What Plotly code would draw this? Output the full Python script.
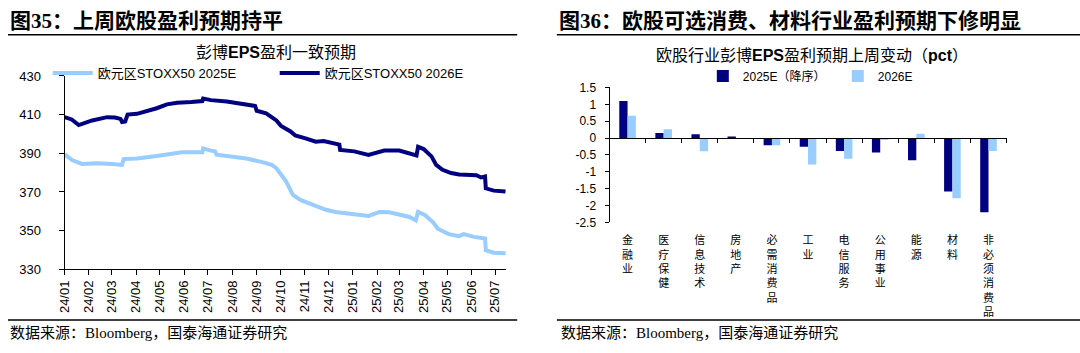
import plotly.graph_objects as go

# ---------------- data: left panel (Bloomberg consensus EPS) ----------------
dates_2026e = ["2024-01-01", "2024-01-10", "2024-01-19", "2024-01-26", "2024-02-05", "2024-02-24",
               "2024-03-05", "2024-03-12", "2024-03-14", "2024-03-18", "2024-03-21", "2024-04-02",
               "2024-04-15", "2024-04-27", "2024-05-10", "2024-05-23", "2024-06-10", "2024-06-24",
               "2024-06-25", "2024-07-05", "2024-07-25", "2024-08-06", "2024-08-25", "2024-08-30",
               "2024-09-01", "2024-09-13", "2024-09-26", "2024-10-02", "2024-10-14", "2024-10-20",
               "2024-11-02", "2024-11-15", "2024-11-25", "2024-12-10", "2024-12-15", "2024-12-16",
               "2025-01-03", "2025-01-21", "2025-02-10", "2025-03-01", "2025-03-14", "2025-03-23",
               "2025-03-25", "2025-04-01", "2025-04-11", "2025-04-17", "2025-04-25", "2025-05-06",
               "2025-05-16", "2025-06-07", "2025-06-13", "2025-06-17", "2025-06-18", "2025-06-19",
               "2025-06-29", "2025-07-14"]
eps_2026e = [408.7, 407.5, 404.6, 405.5, 407.0, 408.7,
             408.5, 407.8, 406.2, 406.5, 410.0, 410.4,
             411.7, 413.3, 415.3, 416.1, 416.5, 417.0,
             418.3, 417.5, 416.8, 416.1, 415.0, 414.5,
             412.0, 410.7, 407.0, 404.1, 401.3, 399.2,
             397.7, 396.0, 396.3, 394.7, 394.5, 391.7,
             391.0, 389.2, 391.4, 391.4, 390.0, 388.9,
             393.4, 392.2, 388.4, 384.0, 381.5, 379.8,
             379.0, 378.7, 377.5, 378.2, 378.0, 371.9,
             370.7, 370.2]

dates_2025e = ["2024-01-01", "2024-01-11", "2024-01-23", "2024-02-11", "2024-03-01", "2024-03-14",
               "2024-03-16", "2024-04-02", "2024-04-27", "2024-05-16", "2024-05-29", "2024-06-24",
               "2024-06-25", "2024-07-05", "2024-07-10", "2024-07-12", "2024-08-06", "2024-08-19",
               "2024-09-07", "2024-09-20", "2024-09-26", "2024-10-02", "2024-10-08", "2024-10-12",
               "2024-10-17", "2024-10-27", "2024-11-09", "2024-11-22", "2024-11-28", "2024-12-10",
               "2024-12-22", "2025-01-03", "2025-01-21", "2025-02-04", "2025-02-16", "2025-03-05",
               "2025-03-14", "2025-03-22", "2025-03-25", "2025-04-03", "2025-04-13", "2025-04-19",
               "2025-05-03", "2025-05-16", "2025-05-22", "2025-06-04", "2025-06-18", "2025-06-19",
               "2025-06-29", "2025-07-14"]
eps_2025e = [389.4, 386.4, 384.5, 384.8, 384.5, 384.0,
             387.0, 387.3, 388.6, 389.8, 390.6, 390.6,
             392.5, 391.4, 391.0, 389.3, 388.1, 387.3,
             385.6, 384.0, 382.3, 379.0, 375.7, 372.5,
             368.5, 365.8, 363.7, 362.0, 360.8, 359.7,
             359.2, 358.7, 357.6, 359.7, 359.5, 358.0,
             357.1, 355.4, 359.7, 358.0, 354.3, 351.0,
             348.2, 347.2, 348.2, 346.8, 346.0, 339.9,
             338.6, 338.3]

# ---------------- data: right panel (sector EPS revisions, pct) ----------------
sectors = ["金融业", "医疗保健", "信息技术", "房地产", "必需消费品", "工业",
           "电信服务", "公用事业", "能源", "材料", "非必须消费品"]
chg_2025e = [1.10, 0.15, 0.11, 0.04, -0.21, -0.26, -0.38, -0.43, -0.66, -1.58, -2.20]
chg_2026e = [0.66, 0.26, -0.39, 0.00, -0.21, -0.78, -0.61, -0.06, 0.13, -1.78, -0.38]
bar_ytickvals = [1.5, 1, 0.5, 0, -0.5, -1, -1.5, -2, -2.5]
bar_yticktext = ["1.5", "1", "0.5", "0", "-0.5", "-1", "-1.5", "-2", "-2.5"]

DARK = "#000080"
LIGHT = "#99CCFF"
W, H = 1080, 353
SANS = "Liberation Sans, Noto Sans CJK SC, sans-serif"
CJK = "Noto Sans CJK SC, sans-serif"
SERIF = "Liberation Serif, Noto Sans CJK SC, serif"


def px_x(p):
    return p / W


def px_y(p):
    return (H - p) / H


fig = go.Figure()

fig.add_trace(go.Scatter(x=dates_2025e, y=eps_2025e, mode="lines", name="欧元区STOXX50 2025E",
                         line=dict(color=LIGHT, width=4), xaxis="x", yaxis="y", legend="legend"))
fig.add_trace(go.Scatter(x=dates_2026e, y=eps_2026e, mode="lines", name="欧元区STOXX50 2026E",
                         line=dict(color=DARK, width=4), xaxis="x", yaxis="y", legend="legend"))

vert_labels = ["<br>".join(list(s)) for s in sectors]
fig.add_trace(go.Bar(x=vert_labels, y=chg_2025e, name="2025E（降序）", marker=dict(color=DARK, line_width=0),
                     xaxis="x2", yaxis="y2", legend="legend2"))
fig.add_trace(go.Bar(x=vert_labels, y=chg_2026e, name="2026E", marker=dict(color=LIGHT, line_width=0),
                     xaxis="x2", yaxis="y2", legend="legend2"))
# helper trace so the boundary-tick axis on the zero line is drawn
fig.add_trace(go.Scatter(x=[None], y=[None], xaxis="x3", yaxis="y2", showlegend=False, hoverinfo="skip"))

ldx = [px_x(57), px_x(502)]
ldy = [px_y(274), px_y(72)]
rdx = [px_x(606), px_x(1006)]
rdy = [px_y(225), px_y(84)]
yr2 = [-2.5, 1.5]
zero_pos = rdy[0] + (0 - yr2[0]) / (yr2[1] - yr2[0]) * (rdy[1] - rdy[0])

fig.update_layout(
    width=W, height=H, margin=dict(l=0, r=0, t=0, b=0),
    paper_bgcolor="white", plot_bgcolor="white",
    barmode="group", bargap=0.54, bargroupgap=0,
    font=dict(family=SANS, size=13, color="black"),
    xaxis=dict(domain=ldx, anchor="y", type="date", range=["2024-01-01", "2025-07-15"],
               dtick="M1", tick0="2024-01-01", tickformat="%y/%m", tickangle=-90,
               showline=True, linecolor="black", linewidth=1, ticks="outside", ticklen=5,
               tickcolor="black", showgrid=False, zeroline=False,
               tickfont=dict(family=SANS, size=13)),
    yaxis=dict(domain=ldy, anchor="x", range=[330, 430], dtick=20, tick0=330,
               showline=True, linecolor="black", linewidth=1, ticks="outside", ticklen=5,
               tickcolor="black", showgrid=False, zeroline=False, ticklabelstandoff=15,
               tickfont=dict(family=SANS, size=13)),
    xaxis2=dict(domain=rdx, anchor="y2", type="category", range=[-0.5, 10.5],
                showline=False, ticks="", showgrid=False, zeroline=False,
                tickfont=dict(family=CJK, size=11), ticklabelstandoff=10),
    yaxis2=dict(domain=rdy, anchor="x2", range=yr2, tickvals=bar_ytickvals, ticktext=bar_yticktext,
                showline=True, linecolor="black", linewidth=1, ticks="outside", ticklen=4,
                tickcolor="black", showgrid=False, zeroline=False, ticklabelstandoff=6,
                tickfont=dict(family=SANS, size=12)),
    xaxis3=dict(domain=rdx, overlaying="x2", anchor="free", position=zero_pos, range=[-0.5, 10.5],
                tickmode="array", tickvals=[i - 0.5 for i in range(len(sectors) + 1)],
                showticklabels=False, showline=True, linecolor="black", linewidth=1,
                ticks="outside", ticklen=4, tickcolor="black", showgrid=False, zeroline=False),
    legend=dict(orientation="h", x=px_x(40), y=px_y(69), xanchor="left", yanchor="middle",
                bgcolor="rgba(0,0,0,0)", font=dict(family=SANS, size=13),
                entrywidth=172, entrywidthmode="pixels", itemwidth=40, tracegroupgap=0),
    legend2=dict(orientation="h", x=px_x(700), y=px_y(72), xanchor="left", yanchor="middle",
                 bgcolor="rgba(0,0,0,0)", font=dict(family=SANS, size=12),
                 entrywidth=90, entrywidthmode="pixels", itemwidth=30, traceorder="normal"),
    showlegend=True,
)

annos = [
    dict(text="<b>图35：上周欧股盈利预期持平</b>", x=0, y=px_y(15), xanchor="left", yanchor="middle",
         font=dict(family=SERIF, size=21)),
    dict(text="<b>图36：欧股可选消费、材料行业盈利预期下修明显</b>", x=px_x(553), y=px_y(15),
         xanchor="left", yanchor="middle", font=dict(family=SERIF, size=21)),
    dict(text="彭博<b>EPS</b>盈利一致预期", x=px_x(270), y=px_y(47), xanchor="center", yanchor="middle",
         font=dict(family=SANS, size=16)),
    dict(text="欧股行业彭博<b>EPS</b>盈利预期上周变动（<b>pct</b>）", x=px_x(810), y=px_y(51),
         xanchor="center", yanchor="middle", font=dict(family=SANS, size=16)),
    dict(text="数据来源：Bloomberg，国泰海通证券研究", x=0, y=px_y(340), xanchor="left", yanchor="middle",
         font=dict(family=SERIF, size=15)),
    dict(text="数据来源：Bloomberg，国泰海通证券研究", x=px_x(555), y=px_y(340), xanchor="left",
         yanchor="middle", font=dict(family=SERIF, size=15)),
]
for a in annos:
    a.update(xref="paper", yref="paper", showarrow=False)
fig.update_layout(annotations=annos)

rules = [(0, 513, 29), (553, 1080, 29), (0, 513, 327), (553, 1080, 327)]
fig.update_layout(shapes=[dict(type="line", xref="paper", yref="paper", x0=px_x(a), x1=px_x(b),
                               y0=px_y(yy), y1=px_y(yy), line=dict(color="black", width=1.5))
                          for a, b, yy in rules])

fig.write_html("out.html")
